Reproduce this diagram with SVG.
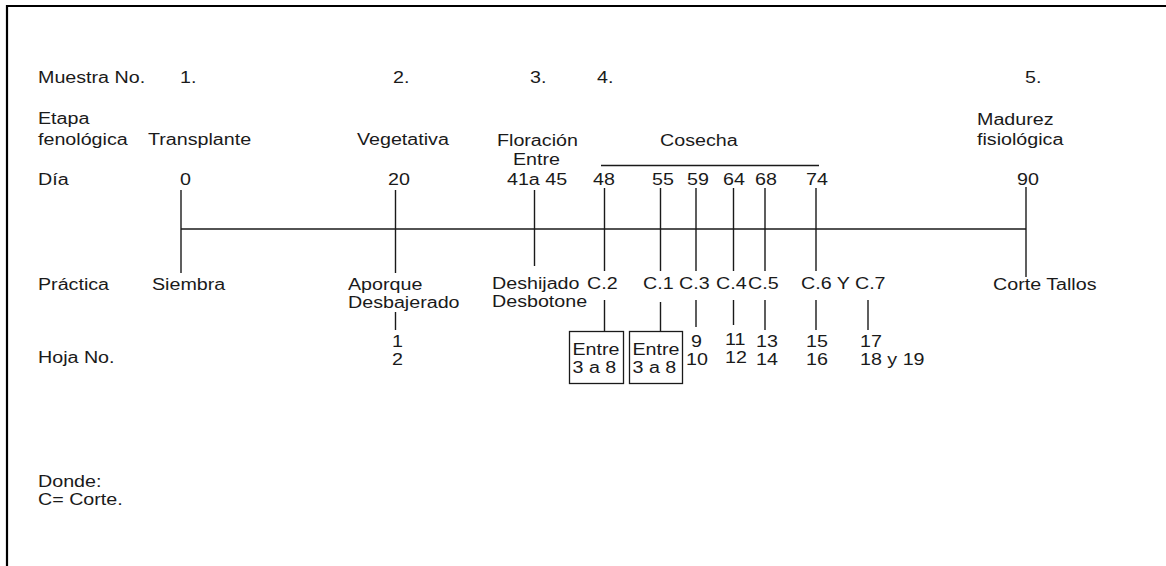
<svg xmlns="http://www.w3.org/2000/svg" width="1166" height="566" viewBox="0 0 1166 566">
<style>
text{font-family:"Liberation Sans",Arial,sans-serif;font-size:16px;fill:#1a1a1a}
.ln{stroke:#1a1a1a;stroke-width:1.4;fill:none}
.bx{stroke:#1a1a1a;stroke-width:1.3;fill:#fff}
.fr{stroke:#000;stroke-width:2.2;fill:none}
</style>
<rect width="1166" height="566" fill="#fff"/>
<path class="fr" d="M7 566V6H1166"/>
<g id="labels">
<text transform="translate(38,83) scale(1.23,1)">Muestra No.</text>
<text transform="translate(38,124) scale(1.23,1)"><tspan x="0">Etapa</tspan><tspan x="0" dy="21">fenológica</tspan></text>
<text transform="translate(38,185) scale(1.23,1)">Día</text>
<text transform="translate(38,290) scale(1.23,1)">Práctica</text>
<text transform="translate(38,363) scale(1.23,1)">Hoja No.</text>
<text transform="translate(38,487) scale(1.23,1)"><tspan x="0">Donde:</tspan><tspan x="0" dy="18">C= Corte.</tspan></text>
</g>
<g id="connectors">
<path class="ln" d="M181 229H1026"/>
<path class="ln" d="M601 165.5H819"/>
<path class="ln" d="M181 190V273"/>
<path class="ln" d="M395.5 190V273M395.5 312V330"/>
<path class="ln" d="M534.5 190V266"/>
<path class="ln" d="M604.5 188V271M604.5 300V331"/>
<path class="ln" d="M660.5 188V271M660.5 302V331"/>
<path class="ln" d="M696 188V271M696 300V327"/>
<path class="ln" d="M733.5 188V271M733.5 300V325"/>
<path class="ln" d="M765 188V271M765 300V330"/>
<path class="ln" d="M816 188V271M816 300V330"/>
<path class="ln" d="M868 300V330"/>
<path class="ln" d="M1026 187V277"/>
</g>
<g id="n1">
<text transform="translate(180,83) scale(1.23,1)">1.</text>
<text transform="translate(148,145) scale(1.23,1)">Transplante</text>
<text transform="translate(180,185) scale(1.23,1)">0</text>
<text transform="translate(152,290) scale(1.23,1)">Siembra</text>
</g>
<g id="n2">
<text transform="translate(393,83) scale(1.23,1)">2.</text>
<text transform="translate(357,145) scale(1.23,1)">Vegetativa</text>
<text transform="translate(388,185) scale(1.23,1)">20</text>
<text transform="translate(348,290) scale(1.23,1)"><tspan x="0">Aporque</tspan><tspan x="0" dy="18">Desbajerado</tspan></text>
<text transform="translate(392,347) scale(1.23,1)"><tspan x="0">1</tspan><tspan x="0" dy="18">2</tspan></text>
</g>
<g id="n3">
<text transform="translate(530,83) scale(1.23,1)">3.</text>
<text transform="translate(497,146) scale(1.23,1)">Floración</text>
<text transform="translate(513,165) scale(1.23,1)">Entre</text>
<text transform="translate(507,185) scale(1.23,1)">41a 45</text>
<text transform="translate(492,289) scale(1.23,1)"><tspan x="0">Deshijado</tspan><tspan x="0" dy="18">Desbotone</tspan></text>
</g>
<g id="n4">
<text transform="translate(597,83) scale(1.23,1)">4.</text>
<text transform="translate(660,146) scale(1.23,1)">Cosecha</text>
<text transform="translate(593,185) scale(1.23,1)">48</text>
<text transform="translate(652,185) scale(1.23,1)">55</text>
<text transform="translate(687,185) scale(1.23,1)">59</text>
<text transform="translate(723,185) scale(1.23,1)">64</text>
<text transform="translate(755,185) scale(1.23,1)">68</text>
<text transform="translate(806,185) scale(1.23,1)">74</text>
<text transform="translate(587,289) scale(1.23,1)">C.2</text>
<text transform="translate(643,289) scale(1.23,1)">C.1</text>
<text transform="translate(679,289) scale(1.23,1)">C.3</text>
<text transform="translate(716,289) scale(1.23,1)">C.4</text>
<text transform="translate(748,289) scale(1.23,1)">C.5</text>
<text transform="translate(801,289) scale(1.23,1)">C.6 Y C.7</text>
<rect class="bx" x="569.5" y="331.5" width="54" height="52"/>
<text transform="translate(572.5,355) scale(1.23,1)"><tspan x="0">Entre</tspan><tspan x="0" dy="18">3 a 8</tspan></text>
<rect class="bx" x="629.5" y="331.5" width="53" height="52"/>
<text transform="translate(632.5,355) scale(1.23,1)"><tspan x="0">Entre</tspan><tspan x="0" dy="18">3 a 8</tspan></text>
<text transform="translate(691,347) scale(1.23,1)">9</text>
<text transform="translate(686,365) scale(1.23,1)">10</text>
<text transform="translate(725,345) scale(1.23,1)"><tspan x="0">11</tspan><tspan x="0" dy="18">12</tspan></text>
<text transform="translate(756,347) scale(1.23,1)"><tspan x="0">13</tspan><tspan x="0" dy="18">14</tspan></text>
<text transform="translate(806,347) scale(1.23,1)"><tspan x="0">15</tspan><tspan x="0" dy="18">16</tspan></text>
<text transform="translate(860,347) scale(1.23,1)"><tspan x="0">17</tspan><tspan x="0" dy="18">18 y 19</tspan></text>
</g>
<g id="n5">
<text transform="translate(1025,83) scale(1.23,1)">5.</text>
<text transform="translate(977,125) scale(1.23,1)"><tspan x="0">Madurez</tspan><tspan x="0" dy="20">fisiológica</tspan></text>
<text transform="translate(1017,185) scale(1.23,1)">90</text>
<text transform="translate(993,290) scale(1.23,1)">Corte Tallos</text>
</g>
</svg>
